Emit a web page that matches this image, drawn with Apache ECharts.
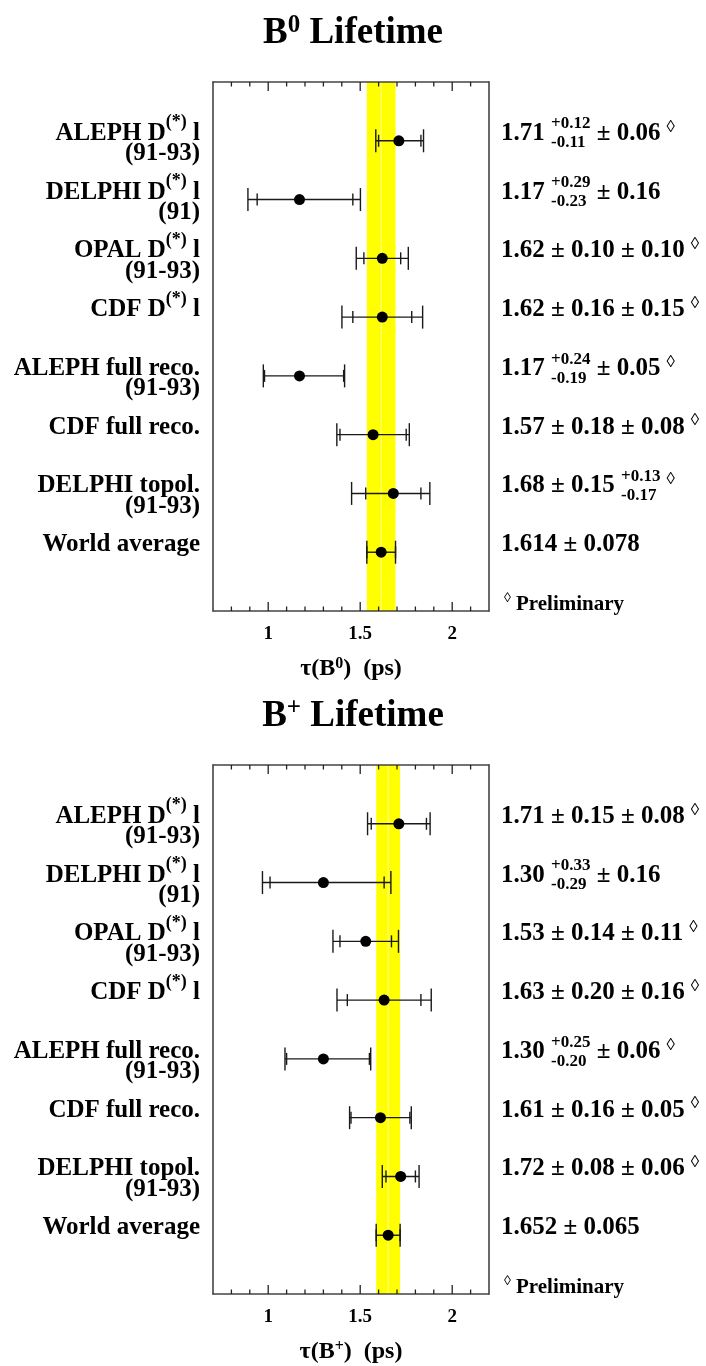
<!DOCTYPE html>
<html><head><meta charset="utf-8">
<script src="https://cdn.jsdelivr.net/npm/echarts@6/dist/echarts.min.js"></script>
<style>html,body{margin:0;padding:0;background:#fff}#c{width:706px;height:1366px}</style>
</head><body><div id="c"></div>
<script>
// ---------- data ----------
const rowLabels = ['ALEPH D^{(*)} l\n(91-93)', 'DELPHI D^{(*)} l\n(91)', 'OPAL D^{(*)} l\n(91-93)', 'CDF D^{(*)} l',
  'ALEPH full reco.\n(91-93)', 'CDF full reco.', 'DELPHI topol.\n(91-93)', 'World average'];

const b0Values    = [1.71, 1.17, 1.62, 1.62, 1.17, 1.57, 1.68, 1.614];
const b0StatPlus  = [0.12, 0.29, 0.10, 0.16, 0.24, 0.18, 0.15, 0.078];
const b0StatMinus = [0.11, 0.23, 0.10, 0.16, 0.19, 0.18, 0.15, 0.078];
const b0SystPlus  = [0.06, 0.16, 0.10, 0.15, 0.05, 0.08, 0.13, null];
const b0SystMinus = [0.06, 0.16, 0.10, 0.15, 0.05, 0.08, 0.17, null];
const b0Prelim    = [true, false, true, true, true, true, true, false];

const bpValues    = [1.71, 1.30, 1.53, 1.63, 1.30, 1.61, 1.72, 1.652];
const bpStatPlus  = [0.15, 0.33, 0.14, 0.20, 0.25, 0.16, 0.08, 0.065];
const bpStatMinus = [0.15, 0.29, 0.14, 0.20, 0.20, 0.16, 0.08, 0.065];
const bpSystPlus  = [0.08, 0.16, 0.11, 0.16, 0.06, 0.05, 0.06, null];
const bpSystMinus = [0.08, 0.16, 0.11, 0.16, 0.06, 0.05, 0.06, null];
const bpPrelim    = [true, false, true, true, true, true, true, false];

const majorTicks = [1, 1.5, 2];
const minorTicks = [0.8, 0.9, 1.1, 1.2, 1.3, 1.4, 1.6, 1.7, 1.8, 1.9, 2.1];
const xMin = 0.7, xMax = 2.2;
const titles = [['B', '0', ' Lifetime'], ['B', '+', ' Lifetime']];
const axisNames = [['τ(B', '0', ')  (ps)'], ['τ(B', '+', ')  (ps)']];
const noteText = 'Preliminary';

// ---------- helpers ----------
const FONT = '"Liberation Serif", "Times New Roman", serif';
const INK = '#000';
const mctx = document.createElement('canvas').getContext('2d');
function tw(s, size, weight) { mctx.font = (weight || 'bold') + ' ' + size + 'px ' + FONT; return mctx.measureText(s).width; }
function txt(x, base, s, size, align, weight) {
  return { type: 'text', style: { x: x, y: base - 0.3375 * size, text: s, fontSize: size, fontFamily: FONT,
    fontWeight: weight || 'bold', fill: INK, align: align || 'left', verticalAlign: 'middle' } };
}
function parseSup(line) {
  const segs = []; const re = /\^\{([^}]*)\}/g; let last = 0, m;
  while ((m = re.exec(line))) {
    if (m.index > last) segs.push({ t: line.slice(last, m.index), sup: false });
    segs.push({ t: m[1], sup: true }); last = re.lastIndex;
  }
  if (last < line.length) segs.push({ t: line.slice(last), sup: false });
  return segs;
}
function fmt(v) { return Math.abs(v * 100 - Math.round(v * 100)) < 1e-6 ? v.toFixed(2) : v.toFixed(3); }

const MAIN = 25, SUP = 18, STK = 17;

function labelEls(label, R, base) {
  const els = [];
  label.split('\n').forEach(function (line, k) {
    const b = base + k * 20.5;
    const segs = parseSup(line);
    const ws = segs.map(s => tw(s.t, s.sup ? SUP : MAIN));
    let x = R - ws.reduce((a, c) => a + c, 0);
    segs.forEach(function (s, j) {
      els.push(txt(x, s.sup ? b - 13 : b, s.t, s.sup ? SUP : MAIN));
      x += ws[j];
    });
  });
  return els;
}
function resultEls(d, x, base) {
  const parts = [{ t: fmt(d.v) + ' ' }];
  if (d.sp === d.sm) parts.push({ t: '± ' + fmt(d.sp) });
  else parts.push({ stack: ['+' + fmt(d.sp), '-' + fmt(d.sm)] });
  if (d.yp != null) {
    if (d.yp === d.ym) parts.push({ t: ' ± ' + fmt(d.yp) });
    else { parts.push({ t: ' ' }); parts.push({ stack: ['+' + fmt(d.yp), '-' + fmt(d.ym)] }); }
  }
  const els = [];
  parts.forEach(function (p) {
    if (p.stack) {
      els.push(txt(x, base - 12, p.stack[0], STK));
      els.push(txt(x, base + 7, p.stack[1], STK));
      x += Math.max(tw(p.stack[0], STK), tw(p.stack[1], STK));
    } else {
      els.push(txt(x, base, p.t, MAIN));
      x += tw(p.t, MAIN);
    }
  });
  if (d.pre) els.push(txt(x + 6, base - 9, '◊', 17, 'left', 'normal'));
  return els;
}

// ---------- chart ----------
const panels = [
  { v: b0Values, sp: b0StatPlus, sm: b0StatMinus, yp: b0SystPlus, ym: b0SystMinus, pre: b0Prelim },
  { v: bpValues, sp: bpStatPlus, sm: bpStatMinus, yp: bpSystPlus, ym: bpSystMinus, pre: bpPrelim }
];
const gridTops = [82, 765];
const grids = [], xAxes = [], yAxes = [], series = [];
const lineC = '#444';
const tickData = majorTicks.map(v => [v, 1]).concat(minorTicks.map(v => [v, 0]));

panels.forEach(function (P, p) {
  grids.push({ left: 213, top: gridTops[p], width: 276, height: 529, show: false, outerBoundsMode: 'none', containLabel: false });
  ['bottom', 'top'].forEach(function (pos) {
    xAxes.push({
      gridIndex: p, type: 'value', min: xMin, max: xMax, position: pos, z: 5,
      axisLine: { show: true, onZero: false, lineStyle: { color: lineC, width: 1.6 } },
      axisTick: { show: false },
      axisLabel: pos === 'bottom' ? { show: true, customValues: majorTicks, margin: 14, color: INK, fontFamily: FONT, fontWeight: 'bold', fontSize: 19 } : { show: false },
      splitLine: { show: false },
      name: pos === 'bottom' ? '{m|' + axisNames[p][0] + '}{s|' + axisNames[p][1] + '}{m|' + axisNames[p][2] + '}' : '',
      nameLocation: 'middle', nameGap: 45,
      nameTextStyle: { rich: {
        m: { fontFamily: FONT, fontWeight: 'bold', fontSize: 24, color: INK, lineHeight: 26 },
        s: { fontFamily: FONT, fontWeight: 'bold', fontSize: 16, color: INK, lineHeight: 16, verticalAlign: 'top' } } }
    });
  });
  ['left', 'right'].forEach(function (pos) {
    yAxes.push({ gridIndex: p, type: 'value', min: 0, max: 9, inverse: true, position: pos, z: 5,
      axisLine: { show: true, onZero: false, lineStyle: { color: lineC, width: 1.6 } },
      axisTick: { show: false }, axisLabel: { show: false }, splitLine: { show: false } });
  });
  const xi = p * 2, yi = p * 2;
  const n = P.v.length;
  const avg = P.v[n - 1], avgErr = P.sp[n - 1];

  // world-average band
  series.push({ type: 'custom', xAxisIndex: xi, yAxisIndex: yi, z: 1, clip: false, silent: true,
    data: [[avg - avgErr, avg + avgErr, avg]], encode: { x: [0, 1, 2] },
    renderItem: function (params, api) {
      const cs = params.coordSys;
      const a = api.coord([api.value(0), 0])[0], b = api.coord([api.value(1), 0])[0], c = api.coord([api.value(2), 0])[0];
      return { type: 'group', children: [
        { type: 'rect', shape: { x: a, y: cs.y, width: b - a, height: cs.height }, style: { fill: '#ffff00' } },
        { type: 'line', shape: { x1: c, y1: cs.y, x2: c, y2: cs.y + cs.height }, style: { stroke: '#ffff99', lineWidth: 1 } }
      ] };
    } });

  // axis ticks (inward, top and bottom)
  series.push({ type: 'custom', xAxisIndex: xi, yAxisIndex: yi, z: 6, clip: false, silent: true,
    data: tickData, encode: { x: 0 },
    renderItem: function (params, api) {
      const cs = params.coordSys;
      const x = api.coord([api.value(0), 0])[0];
      const len = api.value(1) ? 9 : 4.5;
      const st = { stroke: '#222', lineWidth: 1.3 };
      return { type: 'group', children: [
        { type: 'line', shape: { x1: x, y1: cs.y, x2: x, y2: cs.y + len }, style: st },
        { type: 'line', shape: { x1: x, y1: cs.y + cs.height, x2: x, y2: cs.y + cs.height - len }, style: st }
      ] };
    } });

  // error bars
  const errData = P.v.map(function (v, i) {
    const tm = P.ym[i] == null ? P.sm[i] : Math.sqrt(P.sm[i] * P.sm[i] + P.ym[i] * P.ym[i]);
    const tp = P.yp[i] == null ? P.sp[i] : Math.sqrt(P.sp[i] * P.sp[i] + P.yp[i] * P.yp[i]);
    return [i + 1, v, v - tm, v + tp, v - P.sm[i], v + P.sp[i]];
  });
  series.push({ type: 'custom', xAxisIndex: xi, yAxisIndex: yi, z: 2, clip: false, silent: true,
    data: errData, encode: { x: [1, 2, 3, 4, 5], y: 0 },
    renderItem: function (params, api) {
      const y = api.value(0);
      const lo = api.coord([api.value(2), y]), hi = api.coord([api.value(3), y]);
      const ls = api.coord([api.value(4), y]), hs = api.coord([api.value(5), y]);
      const st = { stroke: '#1a1a1a', lineWidth: 1.4 };
      function vl(pt, h) { return { type: 'line', shape: { x1: pt[0], y1: pt[1] - h, x2: pt[0], y2: pt[1] + h }, style: st }; }
      return { type: 'group', children: [
        { type: 'line', shape: { x1: lo[0], y1: lo[1], x2: hi[0], y2: hi[1] }, style: st },
        vl(lo, 11.5), vl(hi, 11.5), vl(ls, 6), vl(hs, 6)
      ] };
    } });

  // points
  series.push({ type: 'scatter', xAxisIndex: xi, yAxisIndex: yi, z: 3, silent: true,
    symbol: 'circle', symbolSize: 11, itemStyle: { color: '#000', opacity: 1 },
    data: P.v.map((v, i) => [v, i + 1]) });

  // texts (labels left, results right)
  series.push({ type: 'custom', xAxisIndex: xi, yAxisIndex: yi, z: 4, clip: false, silent: true,
    data: P.v.map((v, i) => [xMin, i + 1]), encode: { x: 0, y: 1 },
    renderItem: function (params, api) {
      const i = params.dataIndex, cs = params.coordSys;
      const base = api.coord([xMin, api.value(1)])[1] + 1;
      const d = { v: P.v[i], sp: P.sp[i], sm: P.sm[i], yp: P.yp[i], ym: P.ym[i], pre: P.pre[i] };
      return { type: 'group', children: labelEls(rowLabels[i], cs.x - 13, base).concat(resultEls(d, cs.x + cs.width + 12, base)) };
    } });

  // preliminary note
  series.push({ type: 'custom', xAxisIndex: xi, yAxisIndex: yi, z: 4, clip: false, silent: true,
    data: [[xMax, 9]], encode: { x: 0, y: 1 },
    renderItem: function (params, api) {
      const cs = params.coordSys;
      const base = api.coord([xMax, api.value(1)])[1] + 1;
      const x0 = cs.x + cs.width + 15;
      return { type: 'group', children: [
        txt(x0, base - 9, '◊', 14, 'left', 'normal'),
        txt(x0 + 12, base, noteText, 21)
      ] };
    } });
});

const titleOpts = titles.map(function (t, p) {
  return { text: '{m|' + t[0] + '}{s|' + t[1] + '}{m|' + t[2] + '}', left: 'center', top: [13, 696][p], padding: 0,
    textStyle: { rich: {
      m: { fontFamily: FONT, fontWeight: 'bold', fontSize: 37, color: INK, lineHeight: 41 },
      s: { fontFamily: FONT, fontWeight: 'bold', fontSize: 25, color: INK, lineHeight: 25, verticalAlign: 'top' } } } };
});

const chart = echarts.init(document.getElementById('c'), null, { renderer: 'canvas' });
chart.setOption({
  animation: false, backgroundColor: '#fff',
  title: titleOpts, grid: grids, xAxis: xAxes, yAxis: yAxes, series: series
});
</script></body></html>
